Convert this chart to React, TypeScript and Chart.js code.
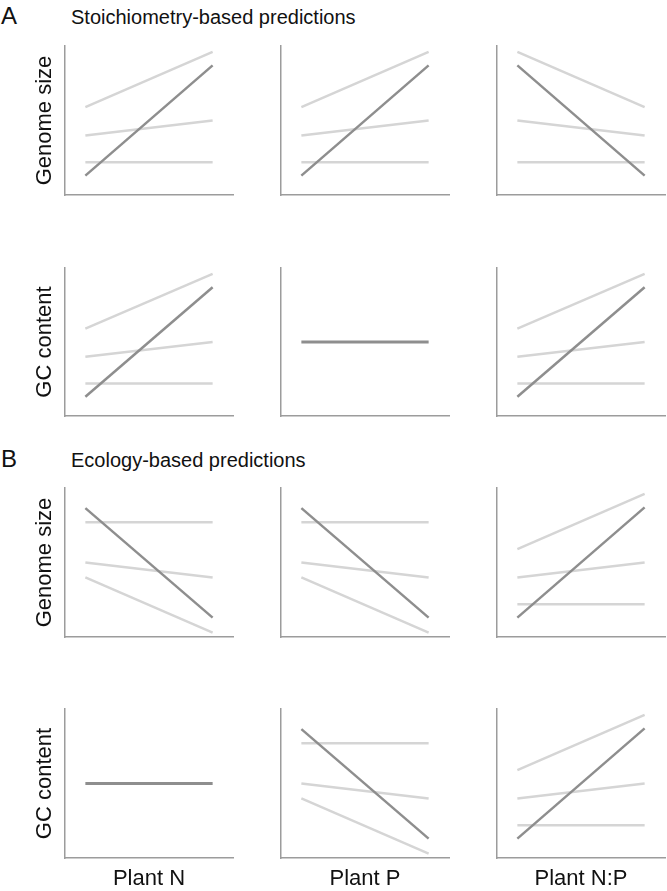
import React, { useEffect, useRef } from "react";
import { Chart, registerables } from "chart.js";

Chart.register(...registerables);

// ---------- data ----------
const treatments = ["Plant N", "Plant P", "Plant N:P"];
const traits = ["Genome size", "GC content"];
const sectionLetters = ["A", "B"];
const sectionTitles = ["Stoichiometry-based predictions", "Ecology-based predictions"];
const nutrientLevels = [0, 1]; // low -> high

// rising prediction (relative units 0-10)
const riseMain = [1.3, 8.7];
const riseUpper = [5.9, 9.6];
const riseMiddle = [4.0, 5.0];
const riseFlat = [2.2, 2.2];

// falling prediction (stoichiometry, plant N:P genome size)
const fallMain = [8.7, 1.3];
const fallUpper = [9.6, 5.9];
const fallMiddle = [5.0, 4.0];
const fallFlat = [2.2, 2.2];

// no change
const neutralMain = [5.0, 5.0];

// falling prediction (ecology)
const ecoMain = [8.65, 1.3];
const ecoFlat = [7.7, 7.7];
const ecoMiddle = [5.0, 4.0];
const ecoLower = [4.0, 0.3];

type Panel = { main: number[]; others: number[][]; thick?: boolean };
const rise: Panel = { main: riseMain, others: [riseUpper, riseMiddle, riseFlat] };
const fall: Panel = { main: fallMain, others: [fallUpper, fallMiddle, fallFlat] };
const neutral: Panel = { main: neutralMain, others: [], thick: true };
const eco: Panel = { main: ecoMain, others: [ecoFlat, ecoMiddle, ecoLower] };

const panels: Panel[][] = [
  [rise, rise, fall],
  [rise, neutral, rise],
  [eco, eco, rise],
  [neutral, eco, rise],
];

// ---------- layout ----------
const axisLeft = [65, 281, 497];
const axisRight = [233, 449, 665];
const rowTop = [46, 268, 488, 709];
const rowBottom = [195, 416, 637, 858];

const FONT = "'Liberation Sans', Arial, Helvetica, sans-serif";
const AXIS_COLOR = "#9c9c9c";
const DARK = "#8e8e8e";
const LIGHT = "#d5d5d5";
const LABEL_SIZE = 22;
const LH = LABEL_SIZE * 1.2;

function PanelChart({ r, c }: { r: number; c: number }) {
  const ref = useRef<HTMLCanvasElement | null>(null);
  const cl = c === 0 ? 0 : axisLeft[c] - 40;
  const cr = c === 2 ? 667 : axisRight[c] + 2;
  const ct = rowTop[r] - 10;
  const cb = r === 3 ? 891 : rowBottom[r] + 10;
  const w = cr - cl;
  const h = cb - ct;

  useEffect(() => {
    const p = panels[r][c];
    const yTitlePadOuter = 0;
    const yTitlePadInner = 6.8;
    const xTitlePadTop = 7.5;
    const yScaleW = c === 0 ? LH + yTitlePadOuter + yTitlePadInner : 0;
    const xScaleH = r === 3 ? LH + xTitlePadTop : 0;
    const toPts = (vals: number[]) => vals.map((v, i) => ({ x: nutrientLevels[i], y: v }));
    const datasets: any[] = [
      {
        data: toPts(p.main),
        borderColor: DARK,
        borderWidth: p.thick ? 3.2 : 2.5,
      },
      ...p.others.map((o) => ({ data: toPts(o), borderColor: LIGHT, borderWidth: 2.5 })),
    ];
    const chart = new Chart(ref.current as HTMLCanvasElement, {
      type: "line",
      data: { datasets },
      options: {
        animation: false,
        responsive: false,
        events: [],
        layout: {
          padding: {
            left: axisLeft[c] - cl - yScaleW,
            right: cr - axisRight[c],
            top: rowTop[r] - ct,
            bottom: cb - rowBottom[r] - xScaleH,
          },
        },
        plugins: { legend: { display: false }, tooltip: { enabled: false } },
        elements: { point: { radius: 0 }, line: { tension: 0 } },
        scales: {
          x: {
            type: "linear",
            min: -0.16,
            max: 1.16,
            ticks: { display: false },
            grid: { display: true, color: "rgba(0,0,0,0)", drawTicks: false },
            border: { display: true, color: AXIS_COLOR, width: 1.5 },
            title: {
              display: r === 3,
              text: treatments[c],
              color: "#111",
              font: { family: FONT, size: LABEL_SIZE },
              padding: { top: xTitlePadTop, bottom: 0 },
            },
          },
          y: {
            type: "linear",
            min: 0,
            max: 10,
            ticks: { display: false },
            grid: { display: true, color: "rgba(0,0,0,0)", drawTicks: false },
            border: { display: true, color: AXIS_COLOR, width: 1.5 },
            title: {
              display: c === 0,
              text: traits[r % 2],
              color: "#111",
              font: { family: FONT, size: LABEL_SIZE },
              padding: { top: yTitlePadOuter, bottom: yTitlePadInner },
            },
          },
        },
      },
    });
    return () => chart.destroy();
  }, [r, c]);

  return (
    <canvas
      ref={ref}
      width={w}
      height={h}
      style={{ position: "absolute", left: cl, top: ct, width: w, height: h }}
    />
  );
}

export default function App() {
  const headerBaselines = [24, 467];
  return (
    <div
      style={{
        position: "absolute",
        left: 0,
        top: 0,
        width: 667,
        height: 891,
        background: "#fff",
        overflow: "hidden",
        fontFamily: FONT,
        color: "#111",
      }}
    >
      {sectionLetters.map((L, i) => (
        <React.Fragment key={L}>
          <div
            style={{
              position: "absolute",
              left: 1,
              top: headerBaselines[i] - 24 * 0.8465,
              fontSize: 24,
              lineHeight: "24px",
              whiteSpace: "nowrap",
            }}
          >
            {L}
          </div>
          <div
            style={{
              position: "absolute",
              left: 71,
              top: headerBaselines[i] - 20 * 0.8465,
              fontSize: 20,
              lineHeight: "20px",
              whiteSpace: "nowrap",
            }}
          >
            {sectionTitles[i]}
          </div>
        </React.Fragment>
      ))}
      {panels.map((row, r) =>
        row.map((_, c) => <PanelChart key={`${r}-${c}`} r={r} c={c} />)
      )}
    </div>
  );
}
